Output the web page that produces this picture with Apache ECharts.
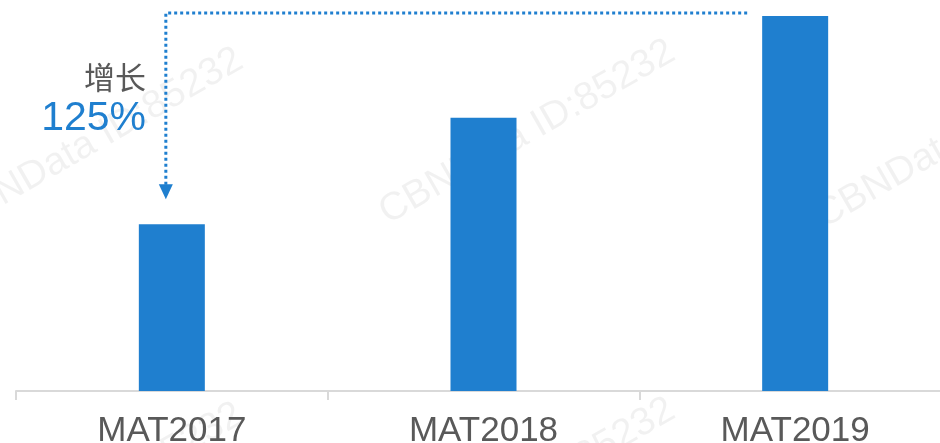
<!DOCTYPE html>
<html>
<head>
<meta charset="utf-8">
<script src="https://cdn.jsdelivr.net/npm/echarts@6/dist/echarts.min.js"></script>
<style>
  html, body { margin: 0; padding: 0; background: #fff; }
  #chart { width: 940px; height: 443px; }
</style>
</head>
<body>
<div id="chart"></div>
<script>
// data
const categories = ["MAT2017", "MAT2018", "MAT2019"];
const salesIndex = [100, 164, 225];
const growthLabel = "增长";
const growthValue = "125%";
const watermark = "CBNData ID:85232";

const BLUE = "#1f7fcf";
const GRAY = "#595959";

let chart = echarts.init(document.getElementById("chart"));

let option = {
  animation: false,
  grid: { left: 16, width: 935, top: 16, bottom: 52, outerBoundsMode: "none" },
  xAxis: {
    type: "category",
    data: categories,
    axisLine: { lineStyle: { color: "#d9d9d9", width: 2 } },
    axisTick: { show: true, length: 9, lineStyle: { color: "#d9d9d9", width: 2 } },
    axisLabel: {
      color: GRAY,
      fontSize: 35,
      fontFamily: "Liberation Sans, Arial, sans-serif",
      margin: 23
    }
  },
  yAxis: {
    type: "value",
    min: 0,
    max: 225,
    show: false
  },
  series: [
    {
      type: "bar",
      data: salesIndex,
      barWidth: 66,
      itemStyle: { color: BLUE }
    }
  ]
};
chart.setOption(option);

// annotation: dotted arrow from the last bar down to the first one
const p1 = chart.convertToPixel({ seriesIndex: 0 }, [0, salesIndex[0]]);
const p3 = chart.convertToPixel({ seriesIndex: 0 }, [2, salesIndex[2]]);
const lineY = p3[1] - 3;
const lineX = p1[0] - 6;
const endX = p3[0] - 48;
const tipY = p1[1] - 25;

let marks = [];
[[-40, 240], [392, 232], [828, 236], [-40, 595], [392, 590]].forEach(function (pos) {
  marks.push({
    type: "text",
    x: pos[0],
    y: pos[1],
    rotation: 0.52,
    silent: true,
    z: 0,
    style: {
      text: watermark,
      fill: "rgba(0,0,0,0.055)",
      font: "39px Liberation Sans, Arial, sans-serif",
      textVerticalAlign: "bottom"
    }
  });
});

marks.push(
  {
    type: "polyline",
    z: 10,
    shape: { points: [[endX, lineY], [lineX, lineY], [lineX, tipY - 14]] },
    style: { stroke: BLUE, lineWidth: 3, lineDash: [3, 3], fill: null }
  },
  {
    type: "polygon",
    z: 10,
    shape: { points: [[lineX - 7, tipY - 15], [lineX + 7, tipY - 15], [lineX, tipY]] },
    style: { fill: BLUE }
  },
  {
    type: "text",
    x: 146,
    y: 77,
    z: 10,
    style: {
      text: growthLabel,
      fill: GRAY,
      font: "31px Noto Sans CJK SC, sans-serif",
      textAlign: "right",
      textVerticalAlign: "middle"
    }
  },
  {
    type: "text",
    x: 146,
    y: 119,
    z: 10,
    style: {
      text: growthValue,
      fill: BLUE,
      font: "41px Liberation Sans, Arial, sans-serif",
      textAlign: "right",
      textVerticalAlign: "middle"
    }
  }
);

chart.setOption({ graphic: marks });
</script>
</body>
</html>
